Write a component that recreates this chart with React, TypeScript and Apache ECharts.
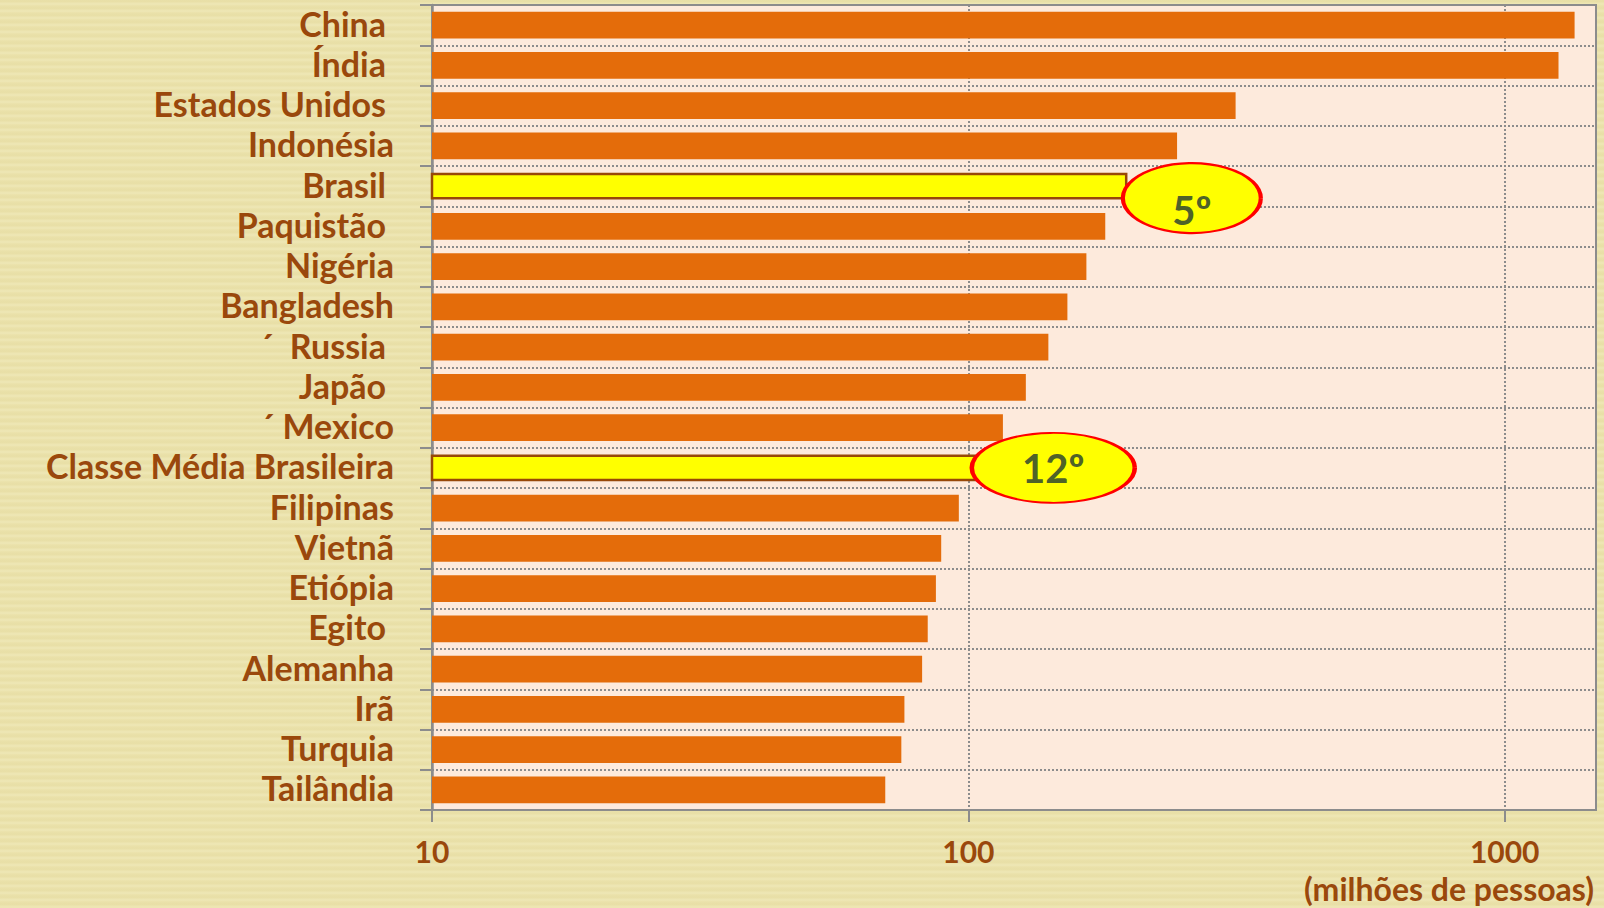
import React, { useEffect, useRef } from "react";
import * as echarts from "echarts";

const categories = [
  "China ",
  "Índia ",
  "Estados Unidos ",
  "Indonésia",
  "Brasil ",
  "Paquistão ",
  "Nigéria",
  "Bangladesh",
  "´  Russia ",
  "Japão ",
  "´ Mexico",
  "Classe Média Brasileira",
  "Filipinas",
  "Vietnã",
  "Etiópia",
  "Egito ",
  "Alemanha",
  "Irã",
  "Turquia",
  "Tailândia",
];

const populations = [1350, 1260, 315, 245, 198, 180, 166, 153, 141, 128, 116, 105, 96, 89, 87, 84, 82, 76, 75, 70];

const highlighted = ["Brasil ", "Classe Média Brasileira"];

const badgeCategories = ["Brasil ", "Classe Média Brasileira"];
const badgeX = [261, 144];
const badgeText = ["5º", "12º"];

const xTicks = [10, 100, 1000];
const axisName = "(milhões de pessoas)";

const BROWN = "#9A480C";
const GRAY = "#8C8C8C";
const FONT = "Lato, 'Open Sans', sans-serif";

export default function App() {
  const ref = useRef<HTMLDivElement>(null);

  useEffect(() => {
    if (!ref.current) return;
    const chart = echarts.init(ref.current, null, { renderer: "svg" });

    const barData = populations.map((v, i) => {
      const hl = highlighted.includes(categories[i]);
      return {
        value: v,
        itemStyle: hl
          ? { color: "#FFFF00", borderColor: "#984807", borderWidth: 2.5 }
          : { color: "#E46C0A" },
      };
    });

    const badgeData = badgeCategories.map((c, i) => ({
      value: [badgeX[i], c],
      symbolSize: i === 0 ? [138, 70] : [163, 70],
      symbolOffset: i === 0 ? [0, 12] : [0, 0],
      label: {
        formatter: badgeText[i],
        offset: i === 0 ? [0, 12] : [0, 0],
      },
    }));

    chart.setOption({
      animation: false,
      backgroundColor: "transparent",
      grid: {
        left: 432,
        top: 5,
        right: 8,
        bottom: 98,
        show: true,
        backgroundColor: "#FDEADC",
        borderColor: GRAY,
        borderWidth: 2,
      },
      xAxis: {
        type: "log",
        logBase: 10,
        min: 10,
        max: 1480,
        axisLine: { show: true, lineStyle: { color: GRAY, width: 2 } },
        axisTick: {
          show: true,
          length: 12,
          customValues: xTicks,
          lineStyle: { color: GRAY, width: 2 },
        },
        axisLabel: {
          customValues: xTicks,
          color: BROWN,
          fontFamily: FONT,
          fontWeight: "bold",
          fontSize: 30,
          lineHeight: 30,
          margin: 26,
          formatter: (v: number) => String(v),
        },
        splitLine: {
          show: true,
          lineStyle: { color: GRAY, type: "dotted", width: 2 },
        },
      },
      yAxis: {
        type: "category",
        inverse: true,
        data: categories,
        axisLine: { show: true, lineStyle: { color: GRAY, width: 2.5 } },
        axisTick: {
          show: true,
          length: 12,
          alignWithLabel: false,
          interval: 0,
          lineStyle: { color: GRAY, width: 2 },
        },
        splitLine: {
          show: true,
          interval: 0,
          lineStyle: { color: GRAY, type: "dotted", width: 2 },
        },
        axisLabel: {
          interval: 0,
          color: BROWN,
          fontFamily: FONT,
          fontWeight: "bold",
          fontSize: 34,
          lineHeight: 32,
          margin: 38,
          padding: [0, 0, 4, 0],
          formatter: (v: string) => (v.endsWith(" ") ? `{p|${v.trimEnd()}}` : v),
          rich: {
            p: {
              color: BROWN,
              fontFamily: FONT,
              fontWeight: "bold",
              fontSize: 34,
              lineHeight: 32,
              padding: [0, 8, 0, 0],
            },
          },
        },
      },
      series: [
        {
          type: "bar",
          data: barData,
          barWidth: "67%",
          z: 2,
        },
        {
          type: "scatter",
          data: badgeData,
          symbol: "circle",
          z: 5,
          itemStyle: { color: "#FFFF00", borderColor: "#FF0000", borderWidth: 3, opacity: 1 },
          label: {
            show: true,
            position: "inside",
            color: "#4F6228",
            fontFamily: FONT,
            fontWeight: "bold",
            fontSize: 40,
          },
          emphasis: { disabled: true },
        },
      ],
      graphic: [
        {
          type: "text",
          right: 10,
          top: 871,
          style: {
            text: axisName,
            fill: BROWN,
            font: `bold 32px ${FONT}`,
            lineHeight: 34,
          },
        },
      ],
    });

    return () => chart.dispose();
  }, []);

  return (
    <div
      style={{
        position: "fixed",
        left: 0,
        top: 0,
        width: 1604,
        height: 908,
        backgroundColor: "#EBE2AB",
        backgroundImage:
          "repeating-linear-gradient(0deg, rgba(255,255,235,0.12) 0px, rgba(255,255,235,0.12) 2px, rgba(200,190,120,0.07) 3px, rgba(200,190,120,0.07) 5px, rgba(255,255,235,0.05) 7px)",
      }}
    >
      <div ref={ref} style={{ width: 1604, height: 908 }} />
    </div>
  );
}
